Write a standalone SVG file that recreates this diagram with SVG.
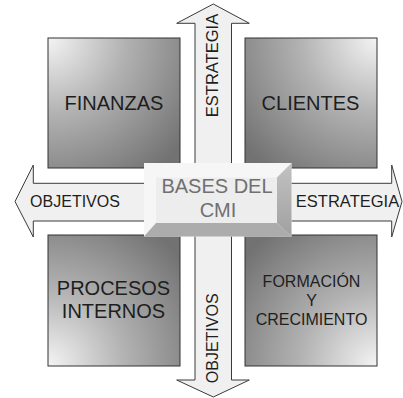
<svg xmlns="http://www.w3.org/2000/svg" width="403" height="398" viewBox="0 0 403 398">
<style>
.arrow{fill:#f0f0f0;stroke:#3a3a3a;stroke-width:1}
.box{stroke:#333;stroke-width:1}
.lbl{font-family:"Liberation Sans",Arial,sans-serif;fill:#1e1e1e;text-anchor:middle}
.alb{font-family:"Liberation Sans",Arial,sans-serif;fill:#1e1e1e;font-size:16.5px;text-anchor:middle}
.ctr{font-family:"Liberation Sans",Arial,sans-serif;fill:#707070;font-size:20px;text-anchor:middle}
</style>
<defs>
<radialGradient id="gTL" cx="0" cy="0" r="1.3" gradientUnits="objectBoundingBox">
<stop offset="0" stop-color="#f4f4f4"/><stop offset="0.45" stop-color="#b2b2b2"/><stop offset="1" stop-color="#727272"/>
</radialGradient>
<radialGradient id="gTR" cx="1" cy="0" r="1.3" gradientUnits="objectBoundingBox">
<stop offset="0" stop-color="#f4f4f4"/><stop offset="0.45" stop-color="#b2b2b2"/><stop offset="1" stop-color="#727272"/>
</radialGradient>
<radialGradient id="gBL" cx="0" cy="1" r="1.3" gradientUnits="objectBoundingBox">
<stop offset="0" stop-color="#f4f4f4"/><stop offset="0.45" stop-color="#b2b2b2"/><stop offset="1" stop-color="#727272"/>
</radialGradient>
<radialGradient id="gBR" cx="1" cy="1" r="1.3" gradientUnits="objectBoundingBox">
<stop offset="0" stop-color="#f4f4f4"/><stop offset="0.45" stop-color="#b2b2b2"/><stop offset="1" stop-color="#727272"/>
</radialGradient>
<linearGradient id="gRight" x1="0" y1="0" x2="0" y2="1">
<stop offset="0" stop-color="#c2c2c2"/><stop offset="1" stop-color="#a0a0a0"/>
</linearGradient>
</defs>
<g id="connectors">
<polygon class="arrow" points="213.3,4 249.3,23.3 231.5,23.3 231.5,175 195,175 195,23.3 176.7,23.3"/>
<polygon class="arrow" points="213.3,397 249.3,380 231.5,380 231.5,225 195,225 195,380 176.7,380"/>
<polygon class="arrow" points="15,201.5 33.3,165 33.3,183.3 160,183.3 160,221 33.3,221 33.3,237"/>
<polygon class="arrow" points="402,201.5 391.7,165 391.7,183.3 270,183.3 270,221 391.7,221 391.7,237"/>
<text class="alb" transform="translate(218.3,65.5) rotate(-90)">ESTRATEGIA</text>
<text class="alb" transform="translate(218.3,338.3) rotate(-90)" style="font-size:16px">OBJETIVOS</text>
<text class="alb" x="75" y="206.5" style="font-size:16px">OBJETIVOS</text>
<text class="alb" x="347.5" y="206.5">ESTRATEGIA</text>
</g>
<g id="finanzas">
<rect class="box" x="48" y="38" width="132" height="130" fill="url(#gTL)"/>
<text class="lbl" x="114" y="110" font-size="20">FINANZAS</text>
</g>
<g id="clientes">
<rect class="box" x="245" y="38" width="132" height="130" fill="url(#gTR)"/>
<text class="lbl" x="310.5" y="109.5" font-size="20">CLIENTES</text>
</g>
<g id="procesos">
<rect class="box" x="48" y="235" width="132" height="131" fill="url(#gBL)"/>
<text class="lbl" x="113.5" y="294.7" font-size="20">PROCESOS</text>
<text class="lbl" x="113.5" y="318" font-size="20">INTERNOS</text>
</g>
<g id="formacion">
<rect class="box" x="245" y="235" width="132" height="131" fill="url(#gBR)"/>
<text class="lbl" x="311.5" y="287.3" font-size="16">FORMACIÓN</text>
<text class="lbl" x="311.5" y="305.5" font-size="16">Y</text>
<text class="lbl" x="311.5" y="324.5" font-size="16">CRECIMIENTO</text>
</g>
<g id="bases">
<rect x="144" y="163" width="147.5" height="73.5" fill="#f6f6f6"/>
<polygon points="291.5,163 291.5,236.5 277,223 277,177.5" fill="url(#gRight)"/>
<polygon points="144,236.5 291.5,236.5 277,223 156,223" fill="#acacac"/>
<rect x="156" y="177.5" width="121" height="45.5" fill="#ededed"/>
<text class="ctr" x="217" y="193.3">BASES DEL</text>
<text class="ctr" x="218" y="216.7">CMI</text>
</g>
</svg>
